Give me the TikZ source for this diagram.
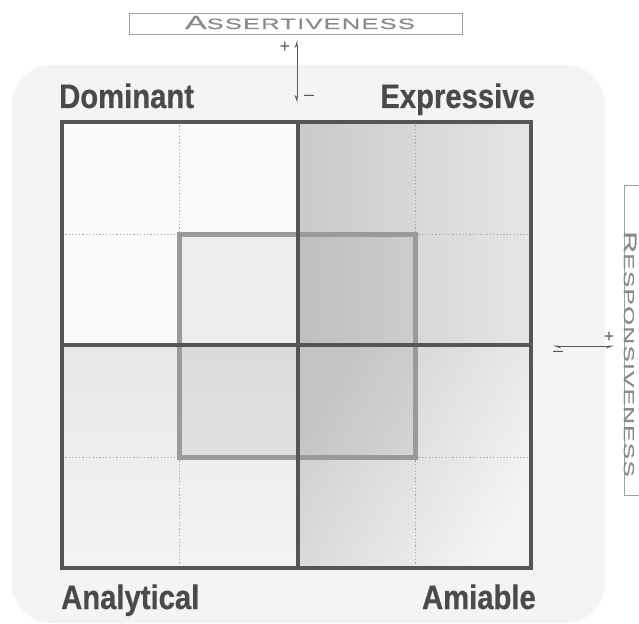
\documentclass[tikz,border=0pt]{standalone}
\usepackage{fontspec}
\setmainfont{Liberation Sans}
\newfontfamily\labfont[FakeStretch=0.86,FakeBold=0.6]{Liberation Sans}
\newfontfamily\axfont[FakeStretch=1.7,LetterSpace=8,FakeBold=0.4]{Liberation Sans}
\usetikzlibrary{arrows.meta}
\definecolor{framec}{HTML}{555555}
\definecolor{innerc}{HTML}{9A9A9A}
\definecolor{labc}{HTML}{4A4A4A}
\definecolor{axc}{HTML}{8A8A8A}
\definecolor{boxc}{HTML}{A0A0A0}
\tikzset{
  frameline/.style={draw=framec, line width=4.2pt},
  innerline/.style={draw=innerc, line width=5pt},
  dotline/.style={draw=gray!70, line width=0.9pt, dash pattern=on 1.2pt off 2.2pt},
  quadlabel/.style={text=labc, font=\labfont\bfseries\fontsize{34}{34}\selectfont, inner sep=0pt},
  axbox/.style={draw=boxc, line width=0.8pt, inner sep=0pt},
  axtext/.style={text=axc, inner sep=0pt},
  axarrow/.style={draw=gray!70!black, line width=0.8pt},
  sign/.style={text=gray!70!black, font=\fontsize{18}{18}\selectfont, inner sep=0pt}
}
\begin{document}
\begin{tikzpicture}[x=1pt,y=-1pt]
\useasboundingbox (0,0) rectangle (639,623);
\clip (0,0) rectangle (639,623);
\fill[white] (0,0) rectangle (639,623);
% pale background blob
\fill[gray!9, rounded corners=40pt] (12,65) rectangle (605,623);
% quadrant fills
\fill[gray!4] (62,122) rectangle (298,345);
\shade[left color=gray!42, right color=gray!20] (298,122) rectangle (531,345);
\shade[top color=gray!19, bottom color=gray!9] (62,345) rectangle (298,568);
\shade[left color=gray!38, right color=gray!9, shading angle=60] (298,345) rectangle (531,568);
% inner square overlay
\fill[black, opacity=0.05] (179,234) rectangle (415,457);
% dotted guides
\draw[dotline] (179,122) -- (179,234);
\draw[dotline] (415,122) -- (415,234);
\draw[dotline] (179,457) -- (179,568);
\draw[dotline] (415,457) -- (415,568);
\draw[dotline] (62,234) -- (179,234);
\draw[dotline] (415,234) -- (531,234);
\draw[dotline] (62,457) -- (179,457);
\draw[dotline] (415,457) -- (531,457);
% inner square
\draw[innerline] (179,234) rectangle (415,457);
% outer frame and cross
\draw[frameline] (62,122) rectangle (531,568);
\draw[frameline] (298,122) -- (298,568);
\draw[frameline] (62,345) -- (531,345);
% quadrant labels
\node[quadlabel, anchor=base west] (dom) at (59,108) {Dominant};
\node[quadlabel, anchor=base east] (exp) at (535,108) {Expressive};
\node[quadlabel, anchor=base west] (ana) at (61,609) {Analytical};
\node[quadlabel, anchor=base east] (ami) at (536,609) {Amiable};
% assertiveness axis
\node[axbox, minimum width=333pt, minimum height=21pt] (assert) at (295.5,23.5) {};
\node[axtext, anchor=base] (asserttxt) at (300,29) {\axfont\fontsize{19}{19}\selectfont A\fontsize{15}{15}\selectfont SSERTIVENESS};
\coordinate (atop) at (297,40);
\coordinate (abot) at (297,103);
\draw[axarrow, {Stealth[harpoon,swap,length=7pt,width=5pt]}-{Stealth[harpoon,length=7pt,width=5pt]}] (abot) -- (atop);
\node[sign] (aplus) at (285,47) {+};
\node[sign] (aminus) at (309,98) {\textendash};
% responsiveness axis
\draw[axbox] (624,185) rectangle (648,495);
\coordinate (rbox) at (630,354);
\node[axtext, rotate=-90] (resptxt) at (rbox) {\axfont\fontsize{18}{18}\selectfont R\fontsize{14.5}{14.5}\selectfont ESPONSIVENESS};
\coordinate (rleft) at (553,346);
\coordinate (rright) at (614,346);
\draw[axarrow, {Stealth[harpoon,length=7pt,width=5pt]}-{Stealth[harpoon,swap,length=7pt,width=5pt]}] (rleft) -- (rright);
\node[sign] (rplus) at (609,337) {+};
\node[sign] (rminus) at (558,354) {\textendash};
\end{tikzpicture}
\end{document}
